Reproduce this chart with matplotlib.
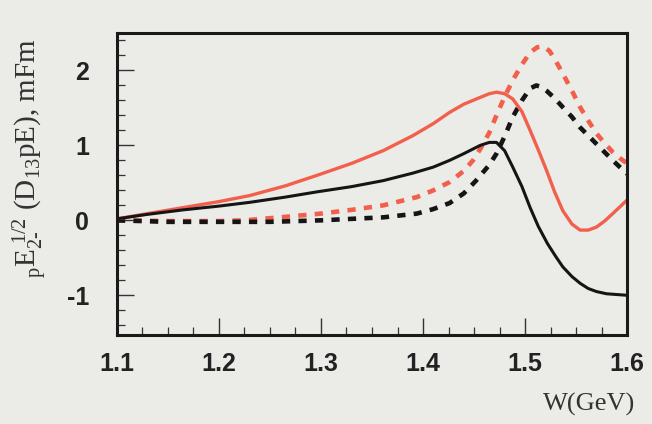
import matplotlib
matplotlib.use("Agg")
import matplotlib.pyplot as plt
from matplotlib.ticker import MultipleLocator

plt.rcParams["axes.unicode_minus"] = False
plt.rcParams["mathtext.fontset"] = "custom"
plt.rcParams["mathtext.rm"] = "Liberation Serif"
plt.rcParams["mathtext.it"] = "Liberation Serif:italic"

# values
w_solid_black = [1.100, 1.130, 1.165, 1.200, 1.230, 1.265, 1.296, 1.330, 1.361, 1.390,
                 1.410, 1.426, 1.440, 1.456, 1.465, 1.472, 1.480, 1.488, 1.497,
                 1.505, 1.513, 1.522, 1.530, 1.537, 1.546, 1.554, 1.562, 1.570, 1.580,
                 1.590, 1.600]
e_solid_black = [0.02, 0.08, 0.14, 0.19, 0.24, 0.31, 0.38, 0.45, 0.53, 0.63,
                 0.71, 0.80, 0.89, 1.00, 1.04, 1.04, 0.93, 0.71, 0.45,
                 0.17, -0.08, -0.31, -0.48, -0.62, -0.75, -0.84, -0.91, -0.95, -0.98,
                 -0.99, -1.00]

w_solid_red = [1.100, 1.130, 1.165, 1.200, 1.230, 1.265, 1.296, 1.330, 1.361, 1.390,
               1.410, 1.426, 1.440, 1.456, 1.465, 1.472, 1.480, 1.488, 1.497, 1.505,
               1.513, 1.521, 1.529, 1.537, 1.546, 1.554, 1.562, 1.570, 1.578, 1.586,
               1.593, 1.600]
e_solid_red = [0.02, 0.09, 0.17, 0.25, 0.33, 0.46, 0.60, 0.76, 0.93, 1.13,
               1.29, 1.44, 1.55, 1.64, 1.69, 1.71, 1.69, 1.62, 1.45, 1.20,
               0.94, 0.67, 0.38, 0.13, -0.05, -0.13, -0.13, -0.09, -0.01, 0.09,
               0.18, 0.27]

w_dash_black = [1.100, 1.150, 1.200, 1.250, 1.300, 1.330, 1.361, 1.394, 1.410, 1.426,
                1.440, 1.452, 1.465, 1.472, 1.480, 1.488, 1.497, 1.505, 1.511, 1.516,
                1.521, 1.529, 1.537, 1.546, 1.554, 1.562, 1.570, 1.578, 1.586, 1.593,
                1.600]
e_dash_black = [0.00, -0.02, -0.02, -0.02, 0.00, 0.02, 0.04, 0.09, 0.15, 0.23,
                0.36, 0.53, 0.74, 0.89, 1.12, 1.38, 1.60, 1.76, 1.80, 1.78,
                1.73, 1.63, 1.51, 1.38, 1.24, 1.13, 1.02, 0.91, 0.80, 0.71,
                0.62]

w_dash_red = [1.100, 1.150, 1.200, 1.225, 1.260, 1.300, 1.330, 1.361, 1.394, 1.410,
              1.426, 1.440, 1.449, 1.456, 1.465, 1.472, 1.480, 1.488, 1.497, 1.505,
              1.512, 1.518, 1.524, 1.530, 1.537, 1.546, 1.554, 1.562, 1.570, 1.578,
              1.586, 1.593, 1.600]
e_dash_red = [0.00, -0.01, -0.01, 0.00, 0.04, 0.09, 0.14, 0.20, 0.31, 0.40,
              0.51, 0.66, 0.80, 0.95, 1.17, 1.40, 1.65, 1.87, 2.08, 2.24,
              2.31, 2.32, 2.26, 2.13, 1.96, 1.73, 1.51, 1.33, 1.16, 1.03,
              0.91, 0.83, 0.76]

xticks = [1.1, 1.2, 1.3, 1.4, 1.5, 1.6]
yticks = [-1, 0, 1, 2]

bg = "#ebebe8"
red = "#f2604c"
black = "#151515"

fig = plt.figure(figsize=(6.52, 4.24), dpi=100, facecolor=bg)
ax = fig.add_axes([0.1794, 0.2099, 0.7823, 0.7123], facecolor=bg)

ax.plot(w_dash_red, e_dash_red, color=red, lw=3.3, ls=(0, (1.8, 1.8)))
ax.plot(w_dash_black, e_dash_black, color=black, lw=3.3, ls=(0, (1.8, 1.8)))
ax.plot(w_solid_red, e_solid_red, color=red, lw=2.4)
ax.plot(w_solid_black, e_solid_black, color=black, lw=2.2)

ax.set_xlim(1.1, 1.6)
ax.set_ylim(-1.53, 2.5)
ax.set_xticks(xticks)
ax.set_yticks(yticks)
ax.xaxis.set_minor_locator(MultipleLocator(0.025))
ax.yaxis.set_minor_locator(MultipleLocator(0.2))

ax.tick_params(which="both", direction="in", top=False, right=False, colors="#333333")
ax.tick_params(which="major", length=12, width=1.0)
ax.tick_params(which="minor", length=6, width=0.9)
ax.tick_params(axis="x", pad=12)
ax.tick_params(axis="y", pad=20)

for lab in ax.get_xticklabels() + ax.get_yticklabels():
    lab.set_fontfamily("Liberation Sans")
    lab.set_fontweight("bold")
    lab.set_fontsize(18)
    lab.set_color("#222222")

for sp in ax.spines.values():
    sp.set_linewidth(2.2)
    sp.set_color("#1a1a1a")

fig.text(0.046, 0.627, r"$_{\rm p}$E$_{2\text{-}}^{\ 1/2}$ (D$_{13}$pE), mFm", rotation=90,
         ha="center", va="center", fontsize=21, family="Liberation Serif", color="#333333")
fig.text(0.903, 0.045, "W(GeV)", ha="center", va="center", fontsize=19,
         family="Liberation Serif", color="#333333")

fig.savefig("out.png", dpi=100, facecolor=bg)
